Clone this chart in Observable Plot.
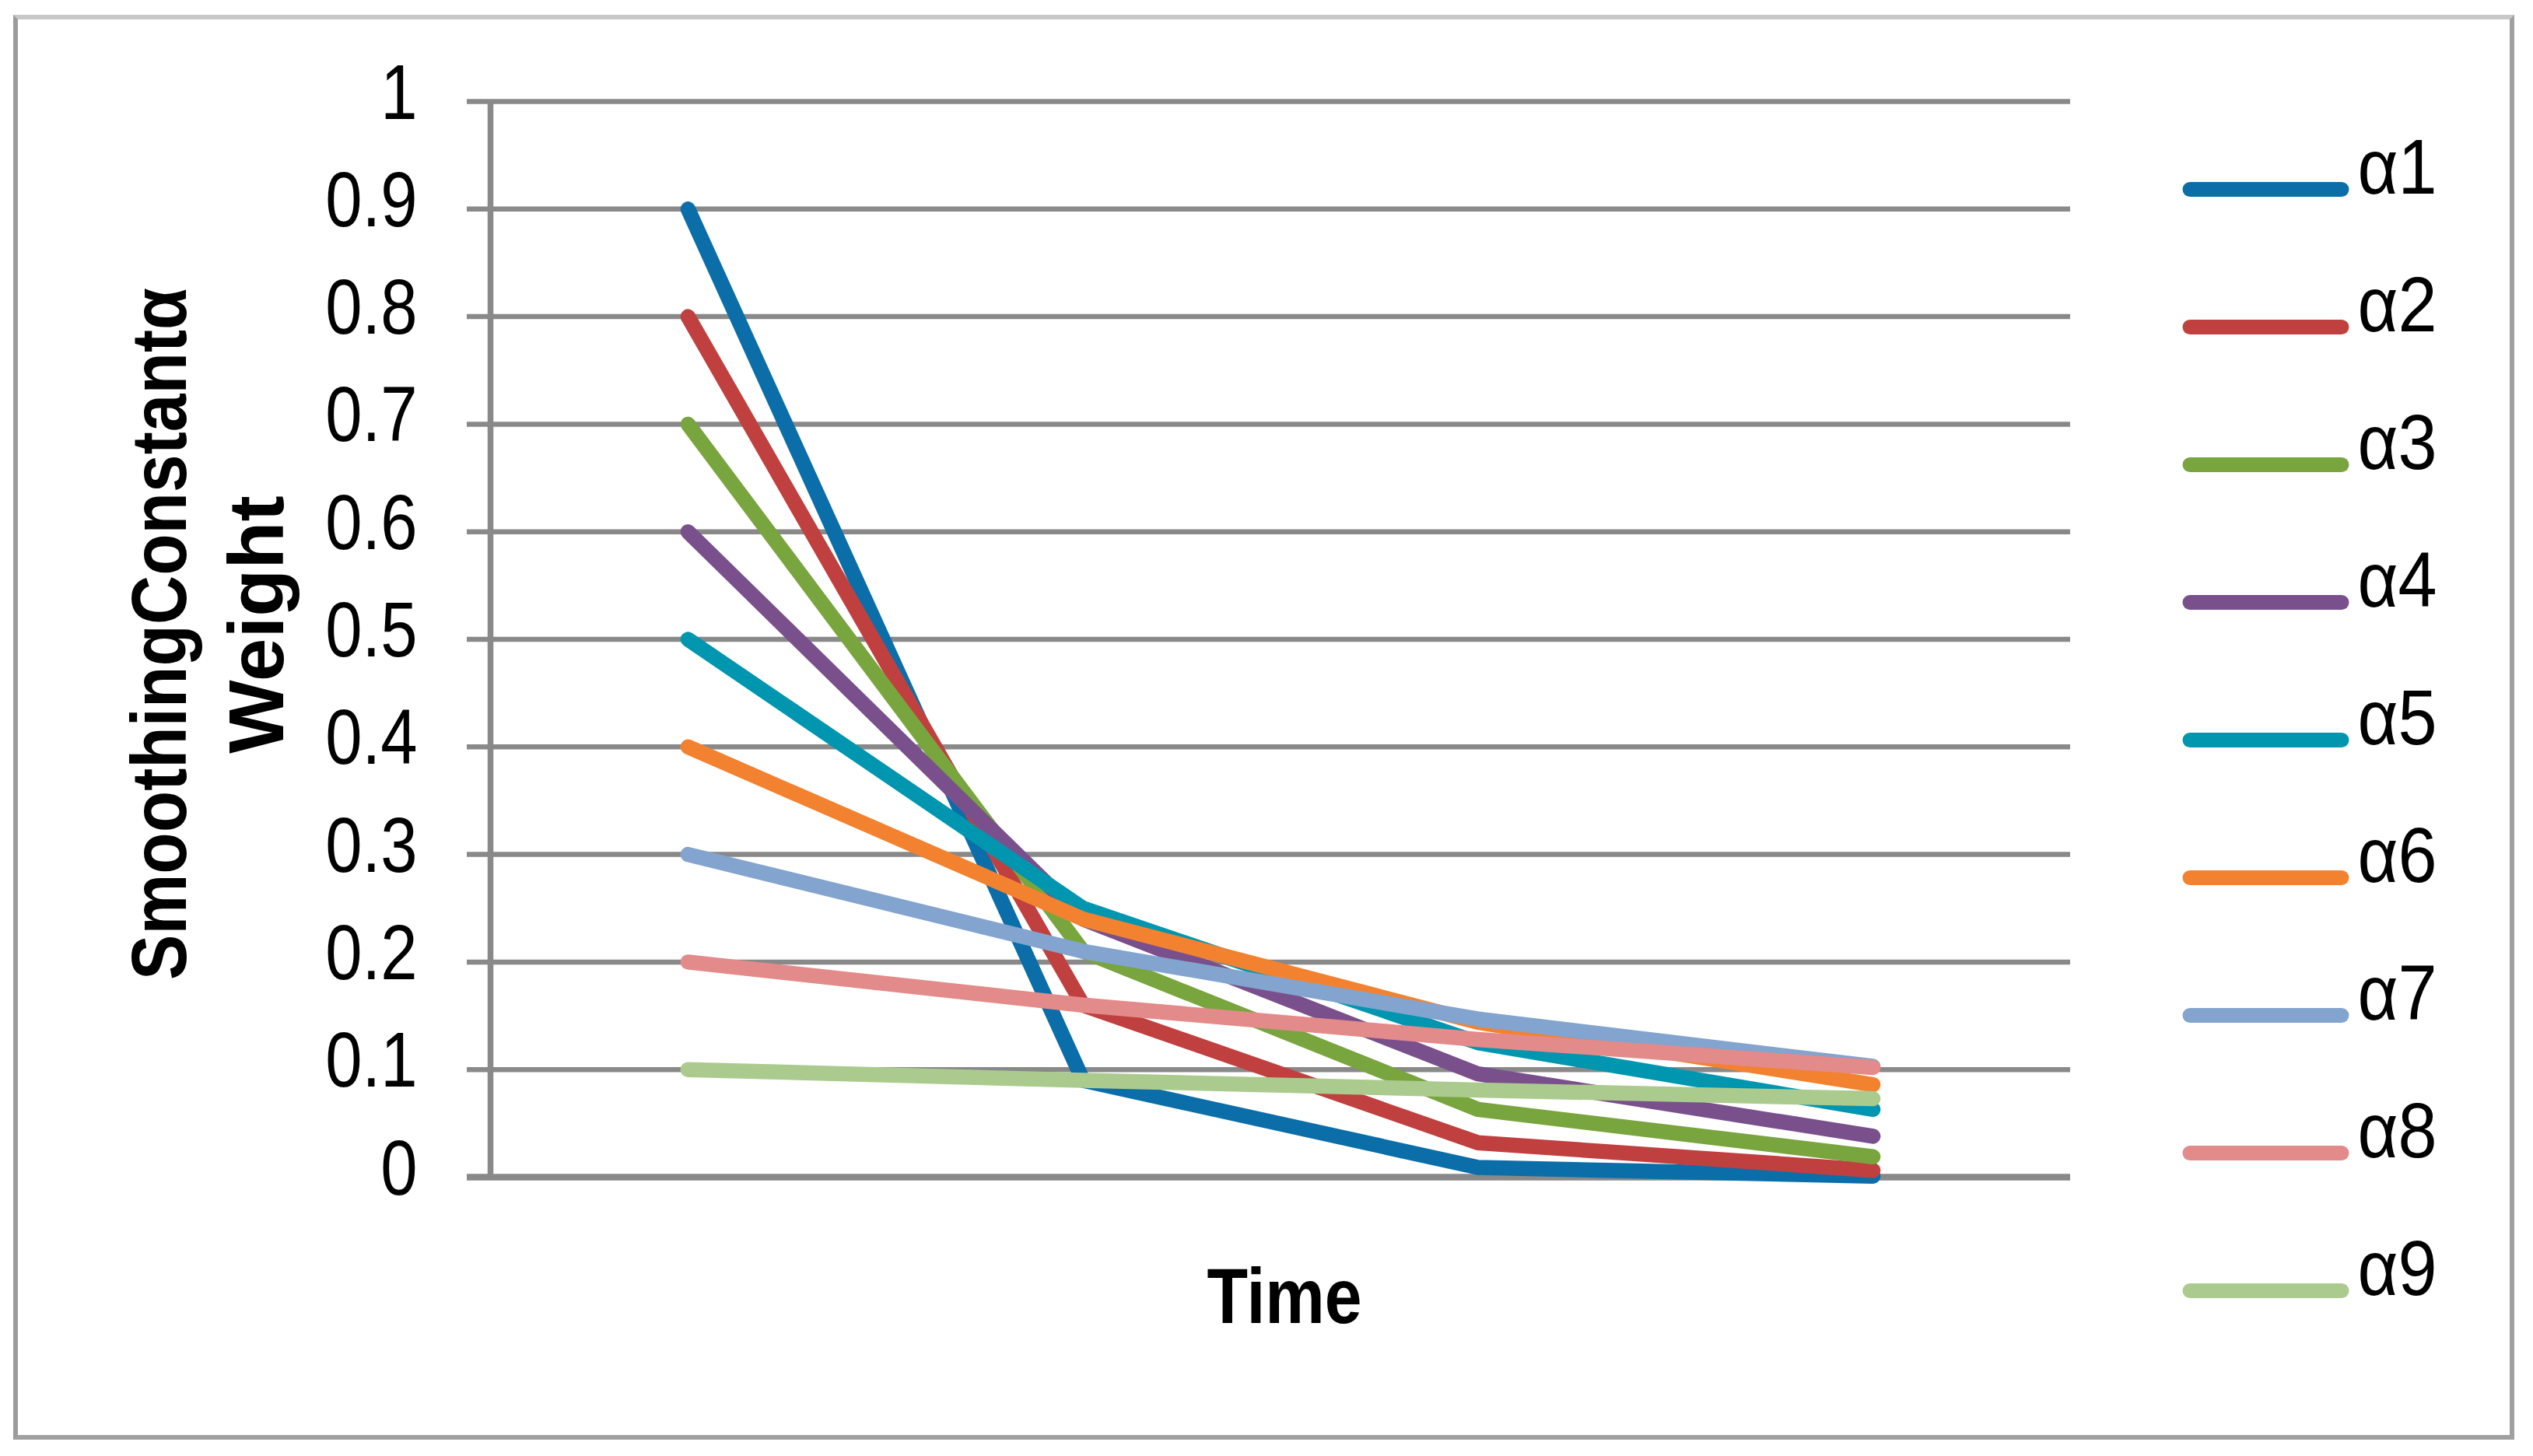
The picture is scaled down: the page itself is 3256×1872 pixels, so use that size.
<!DOCTYPE html>
<html>
<head>
<meta charset="utf-8">
<script src="https://cdn.jsdelivr.net/npm/d3@7"></script>
<script src="https://cdn.jsdelivr.net/npm/@observablehq/plot@0.6"></script>
<style>
  html, body { margin: 0; padding: 0; background: #fff; }
  #wrap { position: relative; width: 3256px; height: 1872px; overflow: hidden; background: #fff; }
  #border { position: absolute; left: 17px; top: 19px; width: 3203px; height: 1820px;
            border-style: solid; border-width: 6px; border-color: #c8c8c8 #a0a0a0 #a0a0a0 #9c9c9c; }
  #wrap svg { position: absolute; left: 0; top: 0; }
</style>
</head>
<body>
<div id="wrap"><div id="border"></div></div>
<script>
// ---- data ----
const periods = [1, 2, 3, 4];
const seriesNames = ["α1", "α2", "α3", "α4", "α5", "α6", "α7", "α8", "α9"];
const seriesColors = ["#0b6ea8", "#c0403f", "#79a53e", "#7a508c", "#0096b0", "#f38230", "#82a4ce", "#e38a8a", "#abcb8e"];
const alpha1 = [0.9, 0.09, 0.009, 0.0009];
const alpha2 = [0.8, 0.16, 0.032, 0.0064];
const alpha3 = [0.7, 0.21, 0.063, 0.019];
const alpha4 = [0.6, 0.24, 0.096, 0.038];
const alpha5 = [0.5, 0.25, 0.125, 0.063];
const alpha6 = [0.4, 0.24, 0.144, 0.086];
const alpha7 = [0.3, 0.21, 0.147, 0.103];
const alpha8 = [0.2, 0.16, 0.128, 0.102];
const alpha9 = [0.1, 0.09, 0.081, 0.073];
const yTicks = [0, 0.1, 0.2, 0.3, 0.4, 0.5, 0.6, 0.7, 0.8, 0.9, 1];
const yTickLabels = ["0", "0.1", "0.2", "0.3", "0.4", "0.5", "0.6", "0.7", "0.8", "0.9", "1"];
const yTitleLine1 = "SmoothingConstantα";
const yTitleLine2 = "Weight";
const xTitle = "Time";

const allSeries = [alpha1, alpha2, alpha3, alpha4, alpha5, alpha6, alpha7, alpha8, alpha9];
const rows = [];
allSeries.forEach((vals, i) => vals.forEach((v, j) => rows.push({series: seriesNames[i], period: periods[j], weight: v})));
// category axis: each period occupies one unit-wide slot
const xDomain = [periods[0] - 0.5, periods[periods.length - 1] + 0.5];

const font = "'Liberation Sans', Arial, sans-serif";
const grid = "#898989";

const chart = Plot.plot({
  width: 3256,
  height: 1872,
  marginTop: 130,
  marginBottom: 359,
  marginLeft: 630,
  marginRight: 595,
  style: {fontFamily: font, fontSize: "100px", background: "transparent", color: "#000"},
  x: {domain: xDomain, axis: null},
  y: {domain: [0, 1], axis: null},
  color: {domain: seriesNames, range: seriesColors},
  marks: [
    // gridlines, each extended 30px left of the axis to form the tick mark
    Plot.ruleY(yTicks, {stroke: grid, strokeWidth: 6.5, insetLeft: -30}),
    Plot.ruleY([0], {stroke: grid, strokeWidth: 8.5, insetLeft: -30}),
    Plot.ruleX([xDomain[0]], {stroke: grid, strokeWidth: 7.5}),
    Plot.text(yTicks, {y: (d) => d, text: (d, i) => yTickLabels[i], frameAnchor: "left",
      dx: -94, dy: -10, textAnchor: "end", fontSize: 100}),
    Plot.line(rows, {x: "period", y: "weight", z: "series", stroke: "series",
      strokeWidth: 19.5, strokeLinecap: "round", strokeLinejoin: "round"}),
    Plot.text([yTitleLine1], {text: (d) => d, frameAnchor: "left", rotate: -90, dx: -392, dy: -7,
      textAnchor: "middle", lineAnchor: "bottom", fontWeight: "bold", fontSize: 100}),
    Plot.text([yTitleLine2], {text: (d) => d, frameAnchor: "left", rotate: -90, dx: -267, dy: -19,
      textAnchor: "middle", lineAnchor: "bottom", fontWeight: "bold", fontSize: 100}),
    Plot.text([xTitle], {text: (d) => d, frameAnchor: "bottom", dx: 5, dy: 187,
      textAnchor: "middle", lineAnchor: "bottom", fontWeight: "bold", fontSize: 100})
  ]
});

const legend = Plot.plot({
  width: 3256,
  height: 1872,
  marginTop: 242,
  marginBottom: 213,
  marginLeft: 2815,
  marginRight: 246,
  style: {fontFamily: font, fontSize: "100px", background: "transparent", color: "#000"},
  x: {axis: null},
  y: {type: "point", domain: seriesNames, padding: 0, axis: null},
  color: {domain: seriesNames, range: seriesColors},
  marks: [
    Plot.tickY(seriesNames, {y: (d) => d, stroke: (d) => d, strokeWidth: 19, strokeLinecap: "round"}),
    Plot.text(seriesNames, {y: (d) => d, text: (d) => d, frameAnchor: "right", dx: 20, dy: 5,
      textAnchor: "start", lineAnchor: "bottom", fontSize: 100})
  ]
});

document.getElementById("wrap").appendChild(chart);
document.getElementById("wrap").appendChild(legend);

// The reference uses a condensed face; squeeze the glyphs horizontally to match.
function squeeze(selection, factor) {
  selection.each(function () {
    const w = this.getComputedTextLength();
    this.setAttribute("textLength", (w * factor).toFixed(1));
    this.setAttribute("lengthAdjust", "spacingAndGlyphs");
  });
}
const textGroups = d3.select(chart).selectAll('g[aria-label="text"]').nodes();
squeeze(d3.select(textGroups[0]).selectAll("text"), 0.85);
squeeze(d3.select(textGroups[1]).selectAll("text"), 0.875);
squeeze(d3.select(textGroups[3]).selectAll("text"), 0.86);
squeeze(d3.select(legend).selectAll('g[aria-label="text"] text'), 0.9);
</script>
</body>
</html>
